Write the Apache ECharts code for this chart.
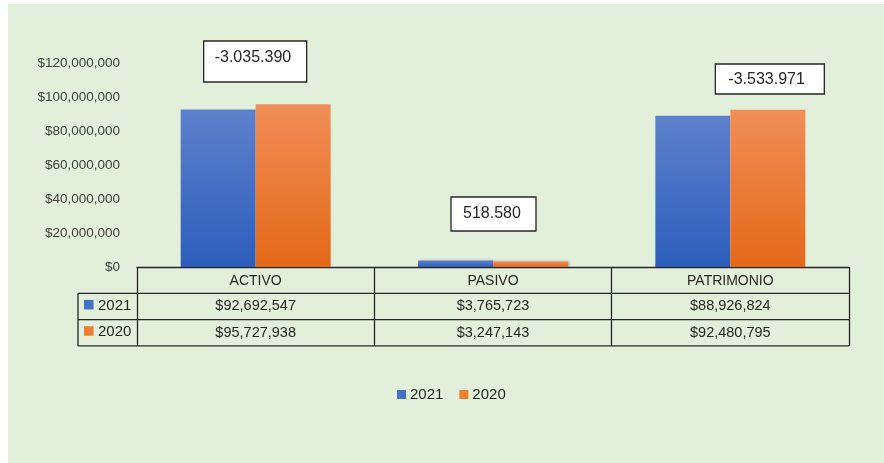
<!DOCTYPE html>
<html>
<head>
<meta charset="utf-8">
<script src="https://cdn.jsdelivr.net/npm/echarts@6/dist/echarts.min.js"></script>
<style>
  html, body { margin: 0; padding: 0; background: #ffffff; }
  #chart { width: 884px; height: 463px; }
</style>
</head>
<body>
<div id="chart"></div>
<script>
// data
const categories = ['ACTIVO', 'PASIVO', 'PATRIMONIO'];
const years = ['2021', '2020'];
const values2021 = [92692547, 3765723, 88926824];
const values2020 = [95727938, 3247143, 92480795];
const diffLabels = ['-3.035.390', '518.580', '-3.533.971'];
const yMin = 0, yMax = 120000000, yStep = 20000000;

// layout of the difference boxes (pixels, relative to category centre / top of plot)
const boxLayout = [
  { dx: -52, y: 41, w: 103, h: 41, tx: 11, ty: 58 },
  { dx: -42, y: 197, w: 85, h: 34, tx: 12, ty: 214 },
  { dx: -35, y: 64, w: 109, h: 30, tx: 13, ty: 80 }
];

const FONT = 'Liberation Sans';
const INK = '#262626';
const colors = ['#4472c4', '#ed7d31'];

const money = v => '$' + Math.round(v).toLocaleString('en-US');

const blueGrad = new echarts.graphic.LinearGradient(0, 0, 0, 1, [
  { offset: 0, color: '#5e81cc' }, { offset: 1, color: '#2d5dbb' }
]);
const orangeGrad = new echarts.graphic.LinearGradient(0, 0, 0, 1, [
  { offset: 0, color: '#f18e58' }, { offset: 1, color: '#e46818' }
]);

const chart = echarts.init(document.getElementById('chart'));

const barStyle = grad => ({
  color: grad,
  shadowColor: 'rgba(0,0,0,0.25)',
  shadowBlur: 3,
  shadowOffsetX: 1.5,
  shadowOffsetY: 0
});

chart.setOption({
  backgroundColor: '#ffffff',
  animation: false,
  textStyle: { fontFamily: FONT },
  grid: { left: 137, right: 35, top: 63, bottom: 196 },
  legend: {
    left: 392, top: 382,
    itemWidth: 9, itemHeight: 9, itemGap: 16,
    textStyle: { fontSize: 15, color: INK, fontFamily: FONT, padding: [0, 0, 0, -1] },
    data: [
      { name: years[0], icon: 'rect', itemStyle: { color: colors[0] } },
      { name: years[1], icon: 'rect', itemStyle: { color: colors[1] } }
    ]
  },
  xAxis: {
    type: 'category',
    data: categories,
    axisLine: { lineStyle: { color: INK, width: 1.3 } },
    axisTick: { show: true, length: 79, lineStyle: { color: INK, width: 1.3 } },
    axisLabel: { fontSize: 14, color: INK, margin: 7, fontFamily: FONT }
  },
  yAxis: {
    type: 'value',
    min: yMin, max: yMax, interval: yStep,
    splitLine: { show: false },
    axisLine: { show: false },
    axisLabel: { fontSize: 13.5, color: '#404040', margin: 17, formatter: money, fontFamily: FONT }
  },
  series: [
    { name: years[0], type: 'bar', data: values2021, barWidth: 75, barGap: '0%', itemStyle: barStyle(blueGrad) },
    { name: years[1], type: 'bar', data: values2020, barWidth: 75, barGap: '0%', itemStyle: barStyle(orangeGrad) }
  ]
});

// data table, difference boxes and background drawn from the axis pixels
const xEnd = 884 - 35;
const yAxisPx = chart.convertToPixel({ yAxisIndex: 0 }, 0);
const rowH = 26.3;
const keyLeft = 78;
const lineStyle = { stroke: INK, lineWidth: 1.3 };

const g = [
  { type: 'rect', z: -100, shape: { x: 8, y: 4, width: 876, height: 459 }, style: { fill: '#e2efda' } },
  { type: 'line', shape: { x1: keyLeft, y1: yAxisPx + rowH, x2: xEnd, y2: yAxisPx + rowH }, style: lineStyle },
  { type: 'line', shape: { x1: keyLeft, y1: yAxisPx + 2 * rowH, x2: xEnd, y2: yAxisPx + 2 * rowH }, style: lineStyle },
  { type: 'line', shape: { x1: keyLeft, y1: yAxisPx + 3 * rowH, x2: xEnd, y2: yAxisPx + 3 * rowH }, style: lineStyle },
  { type: 'line', shape: { x1: keyLeft, y1: yAxisPx + rowH, x2: keyLeft, y2: yAxisPx + 3 * rowH }, style: lineStyle }
];

const rows = [values2021, values2020];
rows.forEach((vals, r) => {
  const cy = yAxisPx + rowH * (r + 1.5);
  g.push({ type: 'rect', shape: { x: keyLeft + 6, y: cy - 6.5, width: 9.5, height: 9.5 }, style: { fill: colors[r] } });
  g.push({ type: 'text', x: keyLeft + 20, y: cy - 1, style: { text: years[r], font: '15px "' + FONT + '"', fill: INK, verticalAlign: 'middle' } });
  vals.forEach((v, i) => {
    const cx = chart.convertToPixel({ xAxisIndex: 0 }, categories[i]);
    g.push({ type: 'text', x: cx, y: cy, style: { text: money(v), font: '14.5px "' + FONT + '"', fill: INK, align: 'center', verticalAlign: 'middle' } });
  });
});

diffLabels.forEach((t, i) => {
  const b = boxLayout[i];
  const cx = chart.convertToPixel({ xAxisIndex: 0 }, categories[i]);
  const bx = cx + b.dx + (i === 2 ? 20 : 0);
  g.push({ type: 'rect', z: 10, shape: { x: bx, y: b.y, width: b.w, height: b.h }, style: { fill: '#ffffff', stroke: INK, lineWidth: 1.3 } });
  g.push({ type: 'text', z: 11, x: bx + b.tx, y: b.ty, style: { text: t, font: '16px "' + FONT + '"', fill: INK, verticalAlign: 'middle' } });
});

chart.setOption({ graphic: g });
</script>
</body>
</html>
